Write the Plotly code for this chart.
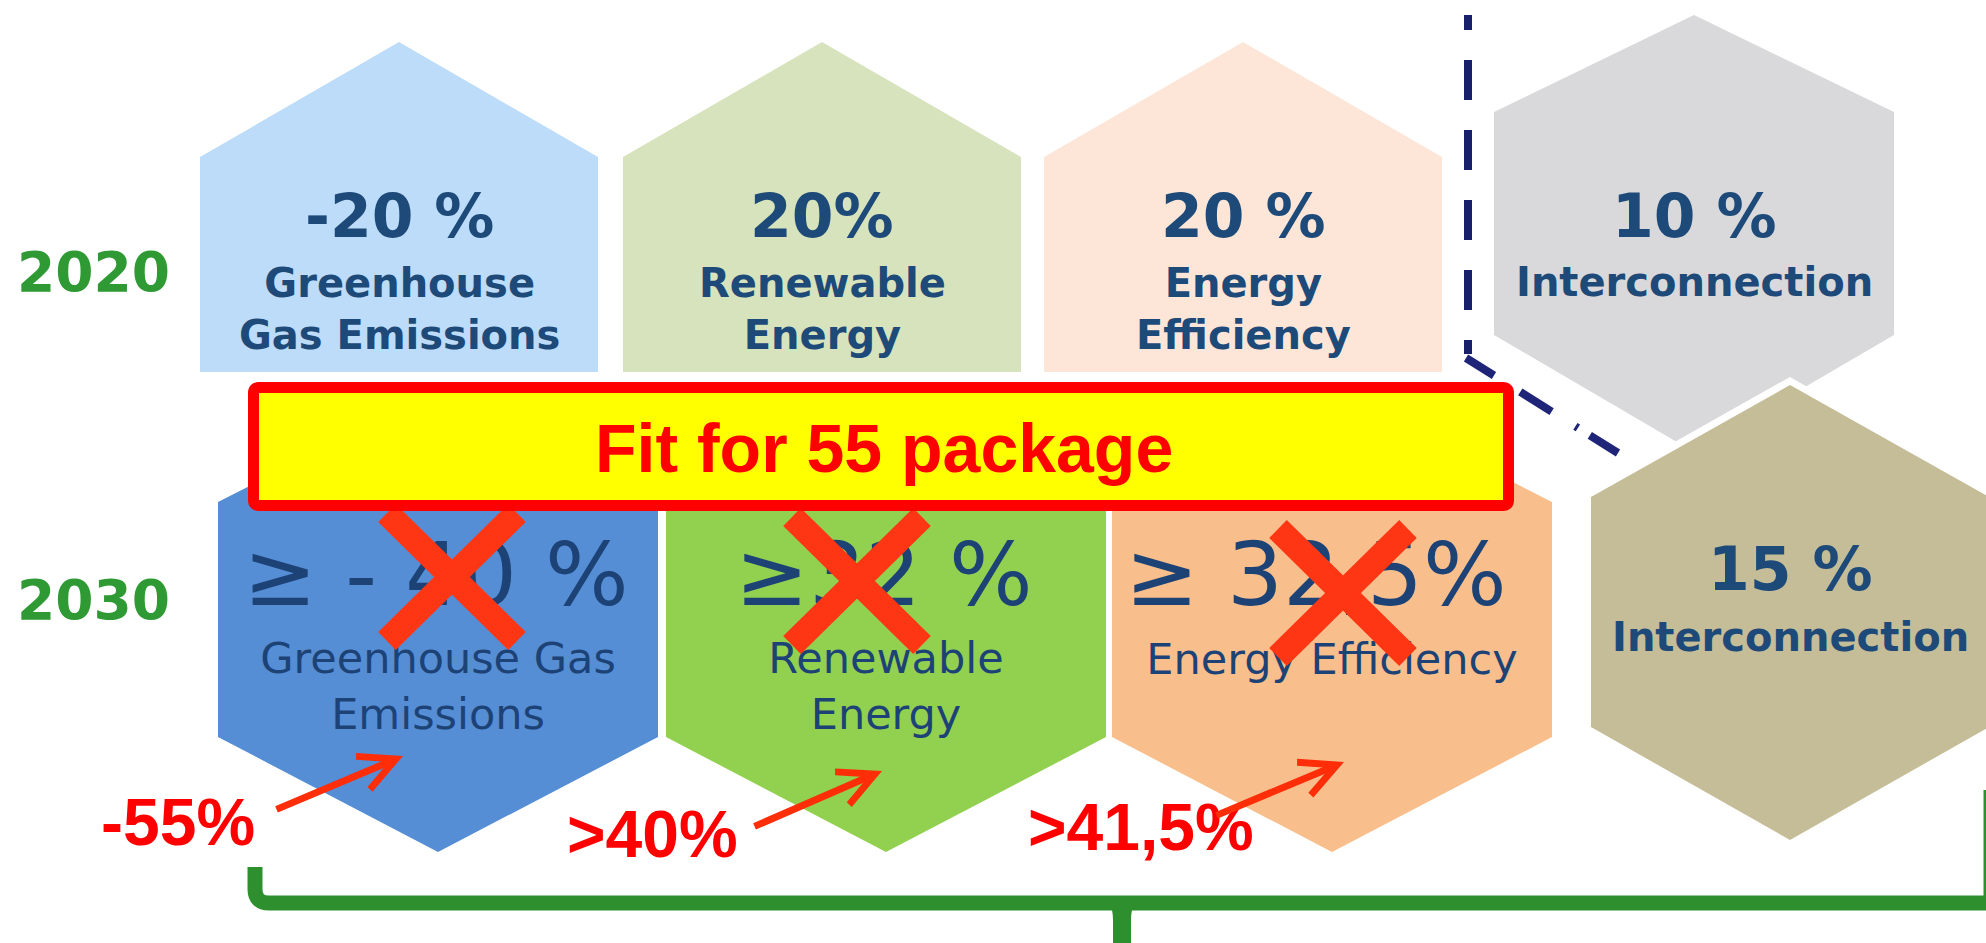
import plotly.graph_objects as go

# ---- content -------------------------------------------------------------
years = ["2020", "2030"]

goals_2020 = ["-20 %", "20%", "20 %", "10 %"]
topics_2020 = ["Greenhouse<br>Gas Emissions", "Renewable<br>Energy",
               "Energy<br>Efficiency", "Interconnection"]

goals_2030 = ["≥ - 40 %", "≥32 %", "≥ 32,5%", "15 %"]
topics_2030 = ["Greenhouse Gas<br>Emissions", "Renewable<br>Energy",
               "Energy Efficiency", "Interconnection"]

fit55_goals = ["-55%", ">40%", ">41,5%"]
package_title = "Fit for 55 package"

# ---- styling -------------------------------------------------------------
fill_2020 = ["#BCDCF9", "#D7E3BC", "#FDE6D8", "#D9D9DB"]
fill_2030 = ["#558ED5", "#92D050", "#F8BF8D", "#C4BD97"]
navy = "#1D4A78"
navy_2030 = "#1D4276"
green = "#2F9A33"
bracket_green = "#2E8F2E"
cross_red = "#FF3614"
label_red = "#FF0000"

W, H = 1986, 943

# column geometry (pixel space, y grows downward)
row1_cx = [399, 822, 1243, 1694]
row1_hw = 199
row2_cx = [438, 886, 1332, 1790]
row2_hw = [220, 220, 220, 199]
goal2030_x = [436, 884, 1316]

fig = go.Figure()
shapes = []
annotations = []


def path(points):
    return "M " + " L ".join(f"{x},{y}" for x, y in points) + " Z"


def house(cx, hw, top, shoulder, bottom):
    return path([(cx - hw, bottom), (cx - hw, shoulder), (cx, top),
                 (cx + hw, shoulder), (cx + hw, bottom)])


def hexagon(cx, hw, top, s1, s2, bottom):
    return path([(cx, top), (cx + hw, s1), (cx + hw, s2), (cx, bottom),
                 (cx - hw, s2), (cx - hw, s1)])


# 2020 row: three "house" tiles and the interconnection hexagon
for i in range(3):
    shapes.append(dict(type="path", path=house(row1_cx[i], row1_hw, 42, 157, 372),
                       fillcolor=fill_2020[i], line=dict(width=0), layer="below"))
shapes.append(dict(type="path", path=hexagon(row1_cx[3], 200, 15, 112, 335, 452),
                   fillcolor=fill_2020[3], line=dict(width=0), layer="below"))

# 2030 row hexagons
for i in range(3):
    shapes.append(dict(type="path",
                       path=hexagon(row2_cx[i], row2_hw[i], 390, 502, 737, 852),
                       fillcolor=fill_2030[i], line=dict(width=0), layer="below"))
# interconnection hexagon with a white rim over the 2020 one
tan_path = hexagon(row2_cx[3], row2_hw[3], 385, 497, 727, 840)
shapes.append(dict(type="path", path=tan_path, fillcolor="white",
                   line=dict(color="white", width=14), layer="below"))
shapes.append(dict(type="path", path=tan_path, fillcolor=fill_2030[3],
                   line=dict(width=0), layer="below"))

# dashed divider
shapes.append(dict(type="line", x0=1468, y0=15, x1=1468, y1=354,
                   line=dict(color="#19206B", width=8,
                             dash="15px,30px,40px,30px,40px,30px,40px,30px,"
                                  "40px,30px,14px,100px"),
                   layer="below"))
shapes.append(dict(type="line", x0=1466, y0=358, x1=1618, y1=453,
                   line=dict(color="#1E2477", width=8,
                             dash="33px,31px,37px,28px,3px,14px,40px"),
                   layer="below"))

# green brace under the 2030 row
shapes.append(dict(type="path",
                   path="M 255,867 L 255,889 Q 255,903 269,903 L 1991,903 L 1991,790",
                   line=dict(color=bracket_green, width=15), layer="below"))
shapes.append(dict(type="path",
                   path=("M 1098,896 Q 1113,899 1113,920 L 1113,943 L 1131,943 "
                         "L 1131,920 Q 1131,899 1146,896 L 1124,896 L 1122,902 "
                         "L 1120,896 Z"),
                   fillcolor=bracket_green, line=dict(width=0), layer="below"))

# year labels
for label, y in zip(years, [272, 600]):
    annotations.append(dict(x=93, y=y, text=label, showarrow=False,
                            font=dict(family="DejaVu Sans", size=55,
                                      color=green, weight="bold")))

# 2020 goals
for i in range(4):
    annotations.append(dict(x=row1_cx[i], y=216, text=goals_2020[i], showarrow=False,
                            font=dict(family="DejaVu Sans", size=60, color=navy,
                                      weight="bold")))
    n = topics_2020[i].count("<br>") + 1
    annotations.append(dict(x=row1_cx[i], y=282 + (n - 1) * 27, text=topics_2020[i],
                            showarrow=False,
                            font=dict(family="DejaVu Sans", size=40, color=navy,
                                      weight="bold")))

# 2030 goals (regular weight) drawn as text traces so the crosses can sit on top
fig.add_trace(go.Scatter(x=goal2030_x, y=[583, 583, 583], mode="text",
                         text=goals_2030[:3], textposition="middle center",
                         textfont=dict(family="DejaVu Sans", size=88, color=navy_2030),
                         hoverinfo="skip", showlegend=False))
topic_y = [690, 690, 663]
fig.add_trace(go.Scatter(x=row2_cx[:3], y=topic_y, mode="text",
                         text=topics_2030[:3], textposition="middle center",
                         textfont=dict(family="DejaVu Sans", size=43, color=navy_2030),
                         hoverinfo="skip", showlegend=False))

# interconnection 2030 (bold)
annotations.append(dict(x=row2_cx[3], y=569, text=goals_2030[3], showarrow=False,
                        font=dict(family="DejaVu Sans", size=60, color=navy,
                                  weight="bold")))
annotations.append(dict(x=row2_cx[3], y=637, text=topics_2030[3], showarrow=False,
                        font=dict(family="DejaVu Sans", size=40, color=navy,
                                  weight="bold")))

# crosses over the superseded 2030 targets
cross_c = [(452, 577), (857, 581), (1343, 593)]
xs, ys = [], []
for cx, cy in cross_c:
    xs += [cx - 65, cx + 65, None, cx + 65, cx - 65, None]
    ys += [cy - 64, cy + 64, None, cy - 64, cy + 64, None]
fig.add_trace(go.Scatter(x=xs, y=ys, mode="lines",
                         line=dict(color=cross_red, width=25),
                         hoverinfo="skip", showlegend=False))

# package banner
shapes.append(dict(type="path",
                   path=("M 259,387.5 L 1503,387.5 Q 1508.5,387.5 1508.5,393 "
                         "L 1508.5,500 Q 1508.5,505.5 1503,505.5 L 259,505.5 "
                         "Q 253.5,505.5 253.5,500 L 253.5,393 Q 253.5,387.5 259,387.5 Z"),
                   fillcolor="#FFFF00", line=dict(color="#FF0000", width=11),
                   layer="above"))
annotations.append(dict(x=884, y=448, text=package_title, showarrow=False,
                        font=dict(family="Liberation Sans", size=68, color=label_red,
                                  weight="bold")))

# revised targets with arrows pointing at the tiles
label_pos = [(178, 822), (652, 834), (1141, 827)]
arrow_tail = [(275, 810), (753, 827), (1215, 816)]
arrow_head = [(403, 756), (882, 771), (1344, 762)]
for txt, (lx, ly), (tx, ty), (hx, hy) in zip(fit55_goals, label_pos, arrow_tail, arrow_head):
    annotations.append(dict(x=lx, y=ly, text=txt, showarrow=False,
                            font=dict(family="Liberation Sans", size=66, color=label_red,
                                      weight="bold")))
    annotations.append(dict(x=hx, y=hy, ax=tx, ay=ty, xref="x", yref="y",
                            axref="x", ayref="y", text="", showarrow=True,
                            arrowhead=5, arrowsize=1, arrowwidth=7,
                            arrowcolor="#FF2D08", standoff=0, startstandoff=0))

fig.update_layout(
    width=W, height=H,
    margin=dict(l=0, r=0, t=0, b=0),
    paper_bgcolor="white", plot_bgcolor="white",
    xaxis=dict(range=[0, W], visible=False, fixedrange=True),
    yaxis=dict(range=[H, 0], visible=False, fixedrange=True),
    shapes=shapes, annotations=annotations,
    showlegend=False,
)

fig.write_html("out.html")
